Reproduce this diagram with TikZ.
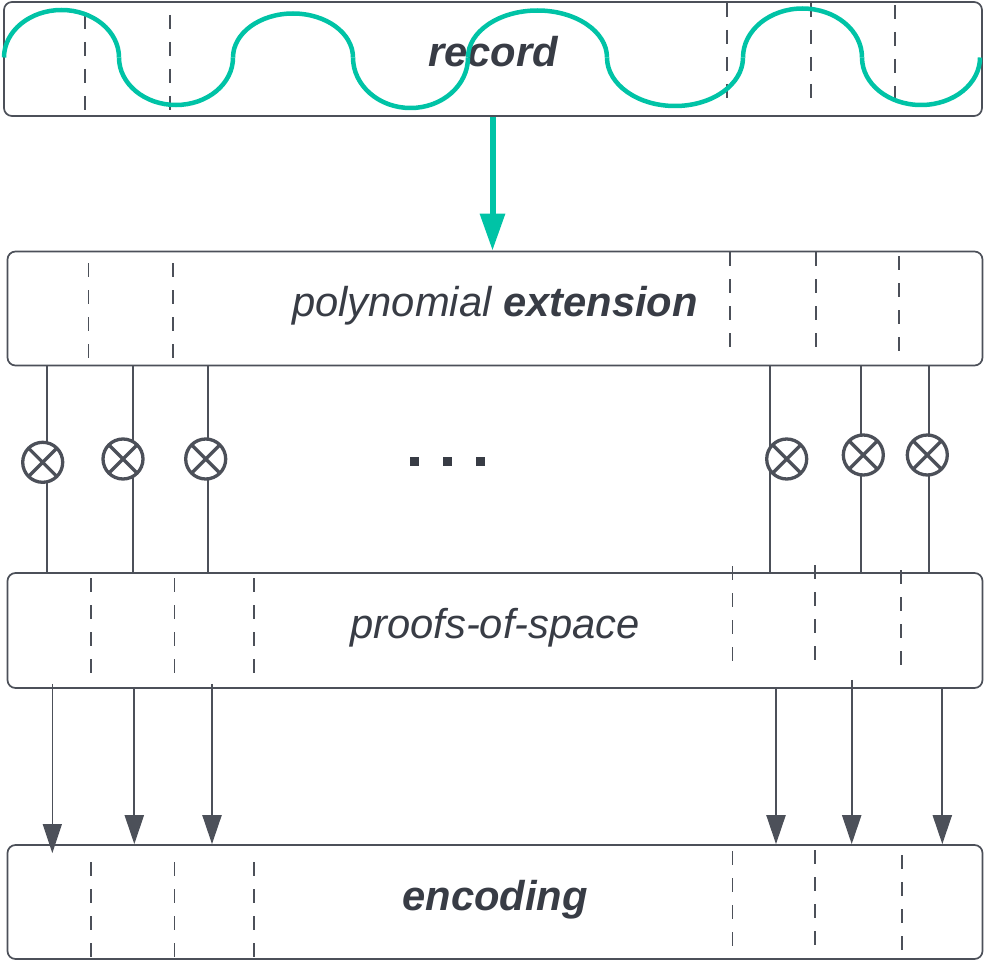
\documentclass[tikz,border=0pt]{standalone}
\usepackage{fontspec}
\setmainfont{Liberation Sans}
\usetikzlibrary{arrows.meta}
\definecolor{ln}{RGB}{76,80,89}
\definecolor{tx}{RGB}{56,60,69}
\definecolor{tealc}{RGB}{0,195,166}
\begin{document}
\begin{tikzpicture}[x=1pt,y=-1pt,
  box/.style={draw=ln, line width=1.7pt, rounded corners=8pt, fill=white, inner sep=0pt,
    minimum width=975pt, minimum height=114pt, text height=20pt, text depth=4pt,
    font=\fontsize{41.7}{48}\selectfont\itshape, text=tx},
  dsh/.style={draw=ln, line width=1.3pt, dash pattern=on 14pt off 13pt},
  conn/.style={draw=ln, line width=2.2pt},
  mult/.style={circle, draw=ln, line width=3.3pt, fill=white, minimum size=40pt, inner sep=0pt, outer sep=0pt},
  arr/.style={draw=ln, line width=2.2pt, -{Triangle[width=19pt,length=29pt]}},
  tarr/.style={draw=tealc, line width=6pt, -{Triangle[width=24pt,length=37pt]}},
  wave/.style={draw=tealc, line width=4.5pt},
  dotsq/.style={rectangle, fill=tx, minimum size=9pt, inner sep=0pt}
]
\useasboundingbox (0,0) rectangle (984,960);

% boxes
\node[box, minimum width=978pt] (record) at (493,59) {\textbf{record}};
\node[box] (poly) at (495,308.5) {polynomial \textbf{extension}};
\node[box, minimum height=115pt] (pos) at (495,630.5) {proofs-of-space};
\node[box] (enc) at (495,902) {\textbf{encoding}};

% dashed separators
\foreach \x/\ya/\yb in {85/15/111, 170/15/111, 727/3/100, 811/3/100, 895/5/100,
  88.5/263/359, 173/263/359, 730/252/350, 816/252/350, 899/256/357,
  91/578/675, 174.5/578/675, 254/578/675, 732.6/566/665, 815/565/663, 901/570/668,
  91/862/959, 174.5/862/959, 254/862/959, 732.6/851/948, 815/850/948, 902/855/958}
  \draw[dsh] (\x,\ya) -- (\x,\yb);

% x positions of connectors
\foreach \n/\x in {v1/46.7, v2/132.7, v3/207.7, v4/770.3, v5/860.7, v6/929.3,
  a1/52.3, a2/134.3, a3/212, a4/776, a5/851.7, a6/942.3, t/492.5}
  \coordinate (\n) at (\x,0);

% vertical connectors between polynomial extension and proofs-of-space
\foreach \n in {v1,v2,v3,v4,v5,v6}
  \draw[conn] (poly.south -| \n) -- (pos.north -| \n);

% multiplication circles
\foreach \n/\x/\y in {m1/42.7/462.3, m2/123/459, m3/205.7/459, m4/786.7/459, m5/863.3/455, m6/927.3/455} {
  \node[mult] (\n) at (\x,\y) {};
  \draw[ln, line width=3.3pt] (\n.45) -- (\n.225) (\n.135) -- (\n.315);
}

% dots
\node[dotsq] (d1) at (414,461) {};
\node[dotsq] (d2) at (447,461) {};
\node[dotsq] (d3) at (480,461) {};

% arrows from proofs-of-space to encoding
\draw[arr, line width=1.2pt, shorten <=-5pt, shorten >=-9pt] (pos.south -| a1) -- (enc.north -| a1);
\draw[arr] (pos.south -| a2) -- (enc.north -| a2);
\draw[arr, shorten <=-5pt] (pos.south -| a3) -- (enc.north -| a3);
\draw[arr] (pos.south -| a4) -- (enc.north -| a4);
\draw[arr, shorten <=-9pt] (pos.south -| a5) -- (enc.north -| a5);
\draw[arr] (pos.south -| a6) -- (enc.north -| a6);

% teal arrow
\draw[tarr] (record.south -| t) -- (poly.north -| t);

% wave
\foreach \a/\b/\r in {4/119/-47.5, 119/233/47.5, 233/353/-44, 353/468/50.5,
  468/607/-47, 607/743/48.5, 743/862/-49, 862/980/47.5} {
  \pgfmathsetmacro\c{(\a+\b)/2}
  \pgfmathsetmacro\h{(\b-\a)/2*0.5523}
  \pgfmathsetmacro\yt{57.5+\r}
  \pgfmathsetmacro\yc{57.5+\r*0.5523}
  \pgfmathsetmacro\cl{\c-\h}
  \pgfmathsetmacro\cr{\c+\h}
  \draw[wave] (\a,57.5) .. controls (\a,\yc) and (\cl,\yt) .. (\c,\yt)
    .. controls (\cr,\yt) and (\b,\yc) .. (\b,57.5);
}
\end{tikzpicture}
\end{document}
